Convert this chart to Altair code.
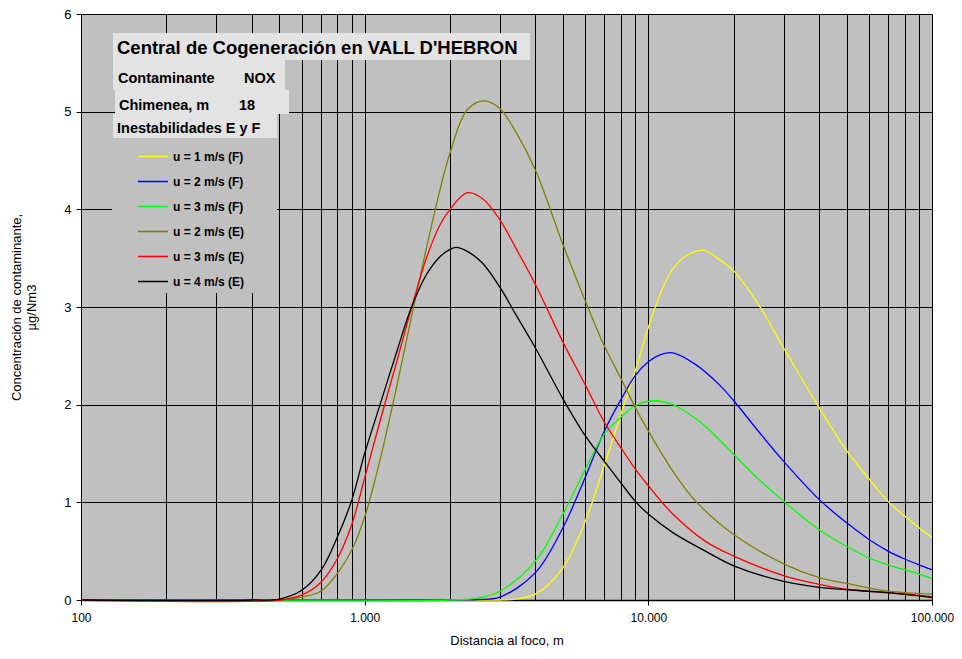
import altair as alt
import pandas as pd

# ---------------- data ----------------
names = ["u = 1 m/s (F)", "u = 2 m/s (F)", "u = 3 m/s (F)",
         "u = 2 m/s (E)", "u = 3 m/s (E)", "u = 4 m/s (E)"]
colors = ["#FFFF00", "#0000FF", "#00FF00", "#808000", "#FF0000", "#000000"]

f1_x = [100, 1000, 2000, 2500, 3000, 3400, 4000, 5000, 6000, 7000, 8000, 9000, 10000,
        11250, 12200, 13550, 15700, 17700, 20000, 24400, 30000, 40000, 50000, 60000,
        70000, 80000, 90000, 100000]
f1_y = [0, 0, 0, 0, 0.0, 0.01, 0.06, 0.33, 0.81, 1.38, 1.90, 2.35, 2.79,
        3.20, 3.39, 3.52, 3.58, 3.49, 3.37, 3.03, 2.58, 1.97, 1.53, 1.24,
        1.01, 0.86, 0.74, 0.64]

f2_x = [100, 2000, 2500, 3000, 4000, 5000, 6000, 7000, 8000, 9000, 10000, 11000, 12200,
        14700, 17700, 20000, 24400, 30000, 40000, 50000, 60000, 70000, 80000, 90000,
        100000]
f2_y = [0, 0, 0.005, 0.03, 0.28, 0.74, 1.26, 1.73, 2.05, 2.30, 2.44, 2.51, 2.53,
        2.41, 2.21, 2.04, 1.73, 1.42, 1.03, 0.79, 0.62, 0.50, 0.42, 0.36,
        0.31]

f3_x = [100, 2000, 2500, 3000, 4000, 5000, 6000, 7000, 8000, 9000, 10400, 12200, 14000,
        15900, 20000, 24400, 30000, 40000, 50000, 60000, 70000, 80000, 90000, 100000]
f3_y = [0, 0, 0.02, 0.09, 0.40, 0.88, 1.34, 1.70, 1.87, 1.99, 2.04, 2.00, 1.90,
        1.78, 1.49, 1.24, 1.01, 0.72, 0.55, 0.43, 0.36, 0.31, 0.265, 0.22]

e2_x = [100, 500, 600, 700, 800, 900, 1000, 1130, 1300, 1450, 1650, 1850, 2000, 2300,
        2640, 3000, 3400, 4000, 5000, 6000, 7000, 8000, 9000, 10000, 12200, 14700,
        20000, 30000, 40000, 50000, 70000, 100000]
e2_y = [0, 0, 0.03, 0.09, 0.27, 0.51, 0.85, 1.42, 2.20, 2.85, 3.60, 4.22, 4.58, 5.02,
        5.11, 5.03, 4.80, 4.40, 3.64, 3.06, 2.60, 2.27, 1.97, 1.73, 1.32, 1.01,
        0.67, 0.37, 0.23, 0.17, 0.09, 0.06]

e3_x = [100, 500, 600, 700, 800, 900, 1000, 1130, 1300, 1450, 1650, 1850, 2000, 2300,
        2600, 3000, 3400, 4000, 5000, 6000, 7000, 8000, 9000, 10000, 12200, 15900,
        20000, 30000, 40000, 50000, 70000, 100000]
e3_y = [0, 0, 0.05, 0.18, 0.42, 0.77, 1.25, 1.82, 2.45, 2.95, 3.50, 3.85, 4.00, 4.17,
        4.11, 3.89, 3.61, 3.23, 2.64, 2.20, 1.82, 1.56, 1.34, 1.17, 0.88, 0.60,
        0.45, 0.25, 0.16, 0.11, 0.075, 0.035]

e4_x = [100, 400, 500, 600, 700, 800, 900, 1000, 1130, 1300, 1450, 1650, 1850, 2000,
        2100, 2300, 2600, 3000, 3400, 4000, 5000, 6000, 7000, 8000, 9000, 10000,
        12200, 15900, 20000, 30000, 40000, 70000, 100000]
e4_y = [0, 0, 0.01, 0.10, 0.30, 0.64, 1.02, 1.50, 1.99, 2.55, 2.97, 3.33, 3.52, 3.59,
        3.61, 3.57, 3.45, 3.20, 2.93, 2.58, 2.06, 1.68, 1.42, 1.20, 1.01, 0.88,
        0.69, 0.50, 0.35, 0.19, 0.13, 0.075, 0.025]

x_grid = [m * 10 ** k for k in (2, 3, 4) for m in range(1, 10)] + [100000]
x_labels = [100, 1000, 10000, 100000]
y_ticks = [0, 1, 2, 3, 4, 5, 6]

series = [(names[0], f1_x, f1_y), (names[1], f2_x, f2_y), (names[2], f3_x, f3_y),
          (names[3], e2_x, e2_y), (names[4], e3_x, e3_y), (names[5], e4_x, e4_y)]
rows = []
for nm, xs, ys in series:
    for xv, yv in zip(xs, ys):
        rows.append({"serie": nm, "x": xv, "y": yv})
df = pd.DataFrame(rows)

FONT = "Liberation Sans"
one = pd.DataFrame({"k": [0]})

label_test = "indexof(%s, datum.value) >= 0" % str(x_labels)

lines = alt.Chart(df).mark_line(strokeWidth=1.3, interpolate="catmull-rom").encode(
    x=alt.X("x:Q",
            scale=alt.Scale(type="log", domain=[100, 100000], nice=False),
            axis=alt.Axis(values=x_grid,
                          labelExpr=label_test + " ? replace(format(datum.value, ','), ',', '.') : ''",
                          title="Distancia al foco, m",
                          grid=True, tickSize=5,
                          tickOpacity={"condition": {"test": label_test, "value": 1}, "value": 0},
                          labelFontSize=12, labelPadding=7, titlePadding=11, domainWidth=1.5,
                          labelFlush=False, labelOverlap=False)),
    y=alt.Y("y:Q",
            scale=alt.Scale(domain=[0, 6], nice=False),
            axis=alt.Axis(values=y_ticks, grid=True, tickSize=5, labelPadding=5,
                          titlePadding=25, domainWidth=1,
                          title=["Concentración de contaminante,", "µg/Nm3"])),
    color=alt.Color("serie:N",
                    scale=alt.Scale(domain=names, range=colors),
                    legend=alt.Legend(title=None, orient="none", legendX=56, legendY=136,
                                      symbolType="stroke", symbolSize=900,
                                      symbolStrokeWidth=1.5, labelFont=FONT,
                                      labelFontSize=12, labelFontWeight="bold",
                                      labelColor="black", clipHeight=13, rowPadding=12,
                                      padding=0, labelOffset=4)),
)

def box(x1, x2, y1, y2, fill):
    return alt.Chart(one).mark_rect(fill=fill).encode(
        x=alt.value(x1), x2=alt.value(x2), y=alt.value(y1), y2=alt.value(y2))

def txt(x, y, s, size):
    return alt.Chart(one).mark_text(align="left", baseline="alphabetic", font=FONT,
                                    fontSize=size, fontWeight="bold", color="black").encode(
        x=alt.value(x), y=alt.value(y), text=alt.value(s))

BOX = "#E3E3E3"
layers = [
    box(31, 196, 124, 279, "#C0C0C0"),
    box(32, 449, 19, 46, BOX),
    box(32, 204, 40, 76, BOX),
    box(34, 208, 76, 100, BOX),
    box(32, 196, 100, 124, BOX),
    txt(36, 40, "Central de Cogeneración en VALL D'HEBRON", 18.5),
    txt(37, 69, "Contaminante", 14.5),
    txt(163, 69, "NOX", 14.5),
    txt(38, 96, "Chimenea, m", 14.5),
    txt(158, 96, "18", 14.5),
    txt(36, 119, "Inestabilidades E y F", 14.5),
    lines,
]

chart = alt.layer(*layers).properties(
    width=851, height=586,
    autosize=alt.AutoSizeParams(type="none"),
    padding={"left": 73, "top": 6, "right": 22, "bottom": 51},
    background="white",
).configure_axis(
    labelFont=FONT, titleFont=FONT, labelFontSize=13, titleFontSize=13,
    titleFontWeight="normal", labelColor="black", titleColor="black",
    gridColor="black", gridOpacity=1, gridWidth=1,
    domainColor="black", tickColor="black",
).configure_view(fill="#C0C0C0", strokeWidth=0)

chart.save("out.html", embed_options={"renderer": "svg", "actions": False})
